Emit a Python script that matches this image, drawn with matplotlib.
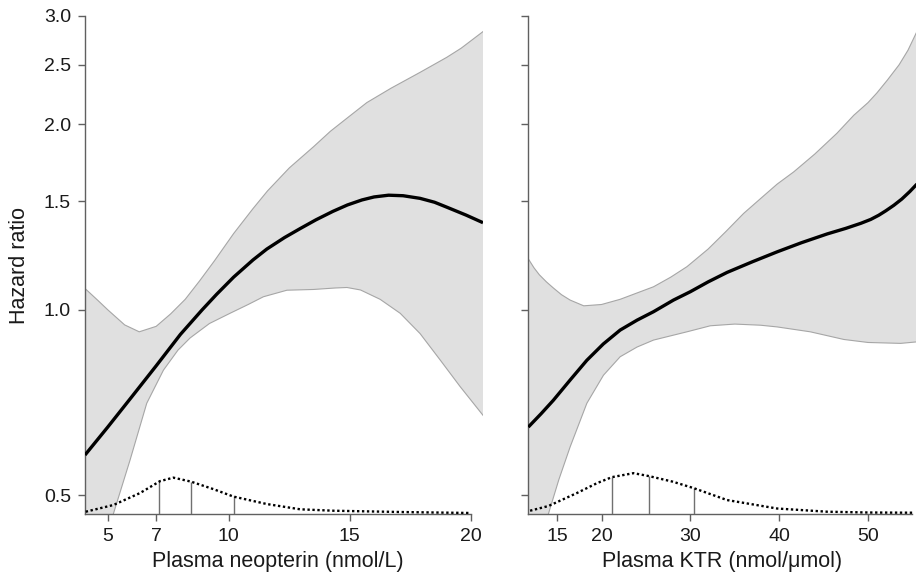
import matplotlib
matplotlib.use("Agg")
import matplotlib.pyplot as plt
from matplotlib.ticker import FixedLocator, NullLocator

plt.rcParams["font.family"] = ["Liberation Sans", "DejaVu Sans"]

# --- left panel: plasma neopterin ---
neo_x = [4.06, 5.0, 6.0, 7.0, 8.0, 8.9, 9.5, 10.2, 11.0, 11.57, 12.3, 12.95, 13.6, 14.3, 14.9, 15.5,
         16.0, 16.6, 17.2, 17.9, 18.5, 19.0, 19.8, 20.5]
neo_hr = [0.581, 0.645, 0.723, 0.811, 0.912, 1.0, 1.06, 1.13, 1.205, 1.255, 1.31, 1.355, 1.40, 1.445,
          1.48, 1.508, 1.525, 1.535, 1.532, 1.517, 1.495, 1.468, 1.425, 1.385]

neo_up_x = [4.06, 4.6, 5.0, 5.7, 6.3, 7.0, 7.6, 8.2, 8.8, 9.4, 10.2, 11.0, 11.6, 12.5, 13.5, 14.2,
            14.9, 15.7, 16.7, 17.9, 19.0, 19.6, 20.5]
neo_up = [1.083, 1.035, 1.0, 0.945, 0.921, 0.94, 0.985, 1.04, 1.115, 1.2, 1.33, 1.46, 1.56, 1.70, 1.84,
          1.95, 2.05, 2.17, 2.29, 2.43, 2.57, 2.66, 2.83]

neo_lo_x = [4.06, 4.6, 5.23, 5.92, 6.61, 7.3, 7.9, 8.4, 9.2, 10.05, 10.8, 11.43, 12.4, 13.5, 14.4,
            14.88, 15.44, 16.25, 17.08, 17.9, 18.73, 19.56, 20.5]
neo_lo = [0.36, 0.41, 0.466, 0.570, 0.705, 0.798, 0.86, 0.90, 0.95, 0.987, 1.02, 1.05, 1.076, 1.079,
          1.085, 1.087, 1.077, 1.04, 0.987, 0.915, 0.829, 0.75, 0.674]

neo_dens_x = [4.09, 5.23, 6.33, 7.16, 7.71, 8.44, 9.36, 10.19, 11.57, 12.95, 14.32, 17.08, 20.0]
neo_dens = [0.0046, 0.018, 0.042, 0.066, 0.073, 0.065, 0.050, 0.035, 0.020, 0.0094, 0.0066, 0.004, 0.002]
neo_quart = [7.13, 8.44, 10.21]
neo_quart_h = [0.068, 0.065, 0.036]

# --- right panel: plasma KTR ---
ktr_x = [11.76, 13.2, 14.58, 16.5, 18.35, 20.2, 22.1, 24.0, 25.86, 28.1, 30.0, 32.0, 34.13, 37.0,
         39.77, 42.5, 45.4, 47.5, 49.2, 50.3, 51.2, 52.0, 52.9, 53.8, 54.7, 55.5]
ktr_hr = [0.645, 0.678, 0.713, 0.77, 0.828, 0.88, 0.927, 0.962, 0.993, 1.037, 1.07, 1.11, 1.15, 1.197,
          1.242, 1.285, 1.328, 1.356, 1.382, 1.402, 1.424, 1.448, 1.478, 1.513, 1.556, 1.60]

ktr_up_x = [11.76, 12.4, 13.0, 13.8, 14.58, 15.5, 16.47, 18.0, 20.0, 22.1, 24.0, 25.86, 27.8, 29.62,
            32.0, 34.0, 36.0, 38.0, 39.77, 41.64, 44.0, 46.5, 48.4, 50.0, 51.0, 52.17, 53.5, 54.5, 55.5]
ktr_up = [1.21, 1.17, 1.14, 1.11, 1.085, 1.058, 1.037, 1.015, 1.02, 1.04, 1.065, 1.09, 1.13, 1.175,
          1.255, 1.34, 1.434, 1.52, 1.60, 1.675, 1.79, 1.935, 2.07, 2.17, 2.25, 2.36, 2.50, 2.64, 2.83]

ktr_lo_x = [11.76, 13.0, 14.02, 15.2, 16.47, 18.35, 20.22, 22.1, 24.0, 25.86, 29.62, 32.25, 35.0,
            37.9, 39.77, 43.5, 47.28, 50.0, 53.67, 55.5]
ktr_lo = [0.37, 0.42, 0.466, 0.53, 0.599, 0.705, 0.783, 0.839, 0.87, 0.893, 0.921, 0.942, 0.948,
          0.944, 0.938, 0.921, 0.895, 0.885, 0.882, 0.887]

ktr_dens_x = [11.96, 14.02, 17.22, 19.5, 21.17, 23.6, 25.37, 28.0, 30.37, 34.13, 39.77, 45.4, 50.0, 54.97]
ktr_dens = [0.0066, 0.016, 0.042, 0.062, 0.074, 0.082, 0.076, 0.065, 0.052, 0.028, 0.011, 0.0046,
            0.003, 0.0026]
ktr_quart = [21.17, 25.37, 30.37]
ktr_quart_h = [0.074, 0.076, 0.052]

y_ticks = [0.5, 1.0, 1.5, 2.0, 2.5, 3.0]
y_labels = ["0.5", "1.0", "1.5", "2.0", "2.5", "3.0"]
neo_ticks = [5, 7, 10, 15, 20]
ktr_ticks = [15, 20, 30, 40, 50]

FILL = "#e0e0e0"
EDGE = "#a6a6a6"
AXC = "#606060"
TXT = "#1a1a1a"
YMIN, YMAX = 0.466, 3.0

fig = plt.figure(figsize=(9.16, 5.74), dpi=100)
W, H = 916, 574
bottom = 1 - 514 / H
height = (514 - 16) / H
ax1 = fig.add_axes([85 / W, bottom, (483 - 85) / W, height])
ax2 = fig.add_axes([528.3 / W, bottom, (916 - 528.3) / W, height])


def panel(ax, x, hr, ux, up, lx, lo, dx, dens, qx, qh, xlim, xticks, xbound, xlabel, show_y):
    ax.set_yscale("log")
    ax.fill(list(ux) + list(lx)[::-1], list(up) + list(lo)[::-1], color=FILL, lw=0, zorder=1)
    ax.plot(ux, up, color=EDGE, lw=0.8, zorder=2)
    ax.plot(lx, lo, color=EDGE, lw=0.8, zorder=2)
    ax.plot(x, hr, color="black", lw=2.4, zorder=4, solid_capstyle="butt", solid_joinstyle="round")
    ax.set_xlim(*xlim)
    ax.set_ylim(YMIN, YMAX)

    # density of the exposure on a hidden linear axis
    axd = ax.twinx()
    axd.set_ylim(0, 1)
    axd.plot(dx, dens, color="black", lw=1.7, linestyle=(0, (1.0, 1.1)), zorder=5)
    axd.vlines(qx, 0, qh, color="#707070", lw=1.0)
    axd.axis("off")

    for s in ["top", "right"]:
        ax.spines[s].set_visible(False)
    for s in ["left", "bottom"]:
        ax.spines[s].set_color(AXC)
        ax.spines[s].set_linewidth(1.0)
    ax.spines["left"].set_bounds(YMIN, 3.0)
    ax.spines["bottom"].set_bounds(xlim[0], xbound)

    ax.yaxis.set_major_locator(FixedLocator(y_ticks))
    ax.yaxis.set_minor_locator(NullLocator())
    if show_y:
        ax.set_yticklabels(y_labels)
    else:
        ax.set_yticklabels([])
    ax.set_xticks(xticks)
    ax.set_xticklabels([str(t) for t in xticks])
    ax.tick_params(axis="both", which="major", length=5, width=1.0, color=AXC,
                   labelsize=14, labelcolor=TXT, pad=5)
    ax.set_xlabel(xlabel, fontsize=15.5, color=TXT)


panel(ax1, neo_x, neo_hr, neo_up_x, neo_up, neo_lo_x, neo_lo, neo_dens_x, neo_dens,
      neo_quart, neo_quart_h, (4.06, 20.5), neo_ticks, 20, "Plasma neopterin (nmol/L)", True)
panel(ax2, ktr_x, ktr_hr, ktr_up_x, ktr_up, ktr_lo_x, ktr_lo, ktr_dens_x, ktr_dens,
      ktr_quart, ktr_quart_h, (11.76, 55.4), ktr_ticks, 55, "Plasma KTR (nmol/\u03bcmol)", False)

ax1.xaxis.set_label_coords((277.5 - 85) / 398, -0.075)
ax2.xaxis.set_label_coords(0.5, -0.075)
ax1.set_ylabel("Hazard ratio", fontsize=15.5, color=TXT)
ax1.yaxis.set_label_coords(-0.138, 0.5)

fig.savefig("out.png", dpi=100)
